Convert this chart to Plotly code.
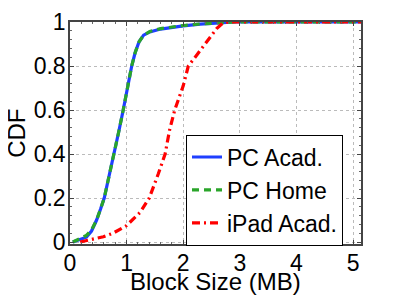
import plotly.graph_objects as go

# Data
pc_acad_x = [0.05, 0.15, 0.29, 0.38, 0.47, 0.54, 0.605, 0.69, 0.78, 0.86, 0.94, 1.02, 1.09, 1.15, 1.22, 1.30, 1.41, 1.60, 1.76, 2.00, 2.30, 2.65, 2.90, 5.14]
pc_acad_y = [0.0, 0.008, 0.022, 0.05, 0.10, 0.15, 0.20, 0.30, 0.40, 0.50, 0.60, 0.71, 0.80, 0.86, 0.91, 0.94, 0.955, 0.968, 0.975, 0.982, 0.99, 0.996, 1.0, 1.0]

pc_home_x = [0.05, 0.15, 0.29, 0.38, 0.47, 0.54, 0.605, 0.69, 0.78, 0.86, 0.94, 1.02, 1.09, 1.15, 1.22, 1.30, 1.41, 1.60, 1.76, 2.00, 2.30, 2.65, 2.90, 5.14]
pc_home_y = [0.0, 0.012, 0.03, 0.055, 0.10, 0.15, 0.20, 0.30, 0.40, 0.50, 0.60, 0.71, 0.80, 0.86, 0.91, 0.94, 0.957, 0.970, 0.977, 0.984, 0.991, 0.997, 1.0, 1.0]

ipad_acad_x = [0.18, 0.41, 0.59, 0.76, 1.00, 1.24, 1.40, 1.56, 1.68, 1.76, 1.85, 2.00, 2.09, 2.24, 2.41, 2.59, 2.70, 2.80, 5.14]
ipad_acad_y = [0.0, 0.015, 0.024, 0.04, 0.075, 0.135, 0.20, 0.31, 0.40, 0.51, 0.60, 0.71, 0.80, 0.85, 0.91, 0.97, 0.995, 1.0, 1.0]

x_ticks = [0, 1, 2, 3, 4, 5]
y_ticks = [0, 0.2, 0.4, 0.6, 0.8, 1]
y_tick_text = ["0", "0.2", "0.4", "0.6", "0.8", "1"]

x_title = "Block Size (MB)"
y_title = "CDF"

FONT = "Liberation Sans, Arial, Helvetica, sans-serif"

fig = go.Figure()
fig.add_trace(go.Scatter(x=pc_acad_x, y=pc_acad_y, mode="lines", name="PC Acad.",
                         line=dict(color="#1f3fff", width=3.2)))
fig.add_trace(go.Scatter(x=pc_home_x, y=pc_home_y, mode="lines", name="PC Home",
                         line=dict(color="#2aa52a", width=3.2, dash="7px,5px")))
fig.add_trace(go.Scatter(x=ipad_acad_x, y=ipad_acad_y, mode="lines", name="iPad Acad.",
                         line=dict(color="#ff0000", width=3.2, dash="8px,4px,2px,4px")))

axis_common = dict(
    showline=True, linecolor="#444444", linewidth=1.5, mirror="ticks",
    ticks="inside", ticklen=4, tickcolor="#444444",
    showgrid=True, gridcolor="#bbbbbb", gridwidth=1, griddash="dot",
    zeroline=False, automargin=False, ticklabelstandoff=-2,
    tickfont=dict(family=FONT, size=23, color="black"),
)

# page body has an 8px margin, so the figure is sized 391x292
fig.update_layout(
    width=391, height=292,
    margin=dict(l=62, r=38, t=14, b=56, autoexpand=False),
    paper_bgcolor="white", plot_bgcolor="white",
    font=dict(family=FONT, color="black"),
    xaxis=dict(range=[0, 5.14], tickvals=x_ticks, ticktext=[str(v) for v in x_ticks],
               minor=dict(dtick=0.2, ticks="inside", ticklen=2, tickcolor="#666666", showgrid=False),
               **axis_common),
    yaxis=dict(range=[-0.009, 1.0], tickvals=y_ticks, ticktext=y_tick_text,
               minor=dict(dtick=0.04, ticks="inside", ticklen=2, tickcolor="#666666", showgrid=False),
               **axis_common),
    legend=dict(x=0.3986, y=0.493, xanchor="left", yanchor="top",
                bgcolor="white", bordercolor="black", borderwidth=1,
                font=dict(family=FONT, size=23, color="black"),
                tracegroupgap=0),
    showlegend=True,
    annotations=[
        dict(text=x_title, xref="paper", yref="paper", x=0.5, y=-0.170,
             xanchor="center", yanchor="middle", showarrow=False,
             font=dict(family=FONT, size=24, color="black")),
        dict(text=y_title, xref="paper", yref="paper", x=-0.186, y=0.5,
             xanchor="center", yanchor="middle", showarrow=False, textangle=-90,
             font=dict(family=FONT, size=24, color="black")),
    ],
)

fig.write_html("out.html")
